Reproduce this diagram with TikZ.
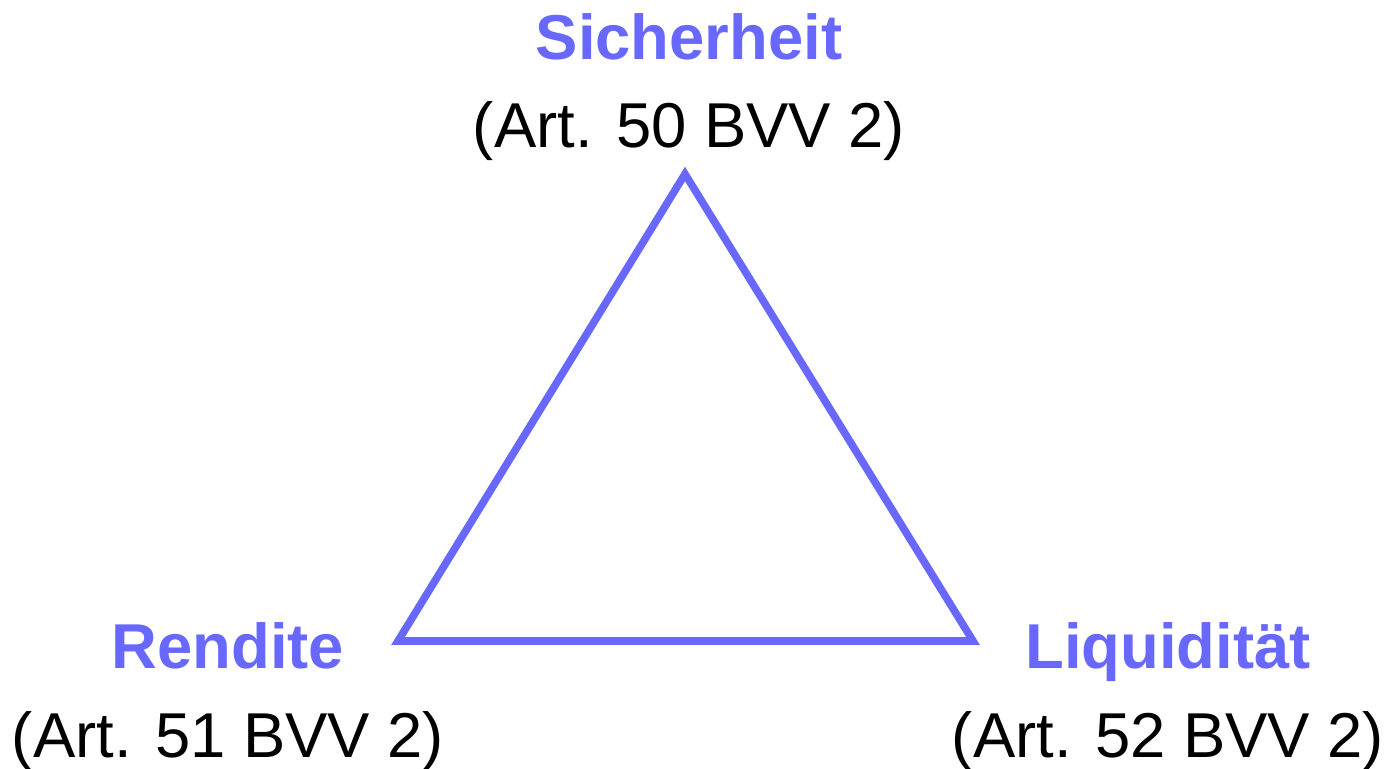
\documentclass[tikz,border=0pt]{standalone}
\usepackage{fontspec}
\setmainfont{Liberation Sans}
\usepackage{tikz}
\usetikzlibrary{positioning}
\definecolor{goalblue}{RGB}{104,104,255}

\begin{document}
\begin{tikzpicture}[
    x=0.5pt, y=-0.5pt,
    goal/.style={anchor=base, inner sep=0pt, font=\fontsize{31.7}{38}\selectfont\bfseries, text=goalblue},
    art/.style={anchor=base, inner sep=0pt, font=\fontsize{31.7}{38}\selectfont},
    edge/.style={draw=goalblue, line width=3.8pt}
]
\useasboundingbox (0,0) rectangle (1386,769);
\coordinate (top) at (685,174);
\coordinate (left) at (398,641);
\coordinate (right) at (973,641);

\node[goal] (sich) at (689,60) {Sicherheit};
\node[art] (sichart) at (689,148) {(Art. 50 BVV 2)};
\node[goal] (rend) at (228,668) {Rendite};
\node[art] (rendart) at (228,757) {(Art. 51 BVV 2)};
\node[goal] (liq) at (1168,668) {Liquidität};
\node[art] (liqart) at (1168,757) {(Art. 52 BVV 2)};

\draw[edge] (top) -- (right) -- (left) -- cycle;
\end{tikzpicture}
\end{document}
